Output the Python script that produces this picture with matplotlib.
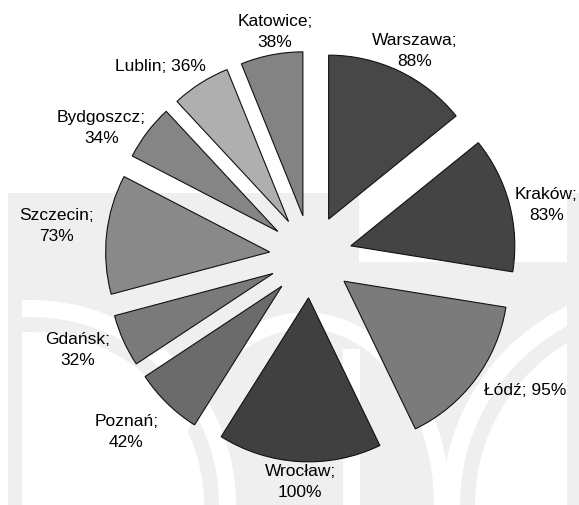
import matplotlib

matplotlib.use("Agg")

import matplotlib.pyplot as plt
import numpy as np
from matplotlib.patches import Ellipse, Rectangle, Wedge

CITIES = ["Warszawa", "Kraków", "Łódź", "Wrocław", "Poznań",
          "Gdańsk", "Szczecin", "Bydgoszcz", "Lublin", "Katowice"]
VALUES = [88, 83, 95, 100, 42, 32, 73, 34, 36, 38]
ONE_LINE = {"Łódź", "Lublin"}

COLORS = ["#474747", "#444444", "#7b7b7b", "#404040", "#6b6b6b",
          "#7a7a7a", "#898989", "#858585", "#afafaf", "#838383"]

# label layout: distance from pie centre (in radii) and angular nudge (deg)
LABEL_R = [1.41, 1.47, 1.54, 1.37, 1.55, 1.53, 1.56, 1.50, 1.48, 1.39]
LABEL_TURN = [-1.3, -2.4, 4.8, 0.5, -2.2, -2.6, -0.8, 5.6, 5.8, -2.0]

W, H = 579, 506
CX, CY, RADIUS = 310.8, 257.5, 164.0
EXPLODE = 0.2524

plt.rcParams["font.family"] = ["Liberation Sans", "DejaVu Sans"]


def _draw_watermark(fig):
    bg = fig.add_axes([0, 0, 1, 1], zorder=0)
    bg.set_xlim(0, W)
    bg.set_ylim(H, 0)
    bg.axis("off")
    gray = "#efefef"
    box = Rectangle((8, 194), W - 8, H - 194, fc=gray, ec="none")
    bg.add_patch(box)
    shapes = [
        Ellipse((305, 506), 290, 385, fc="white", ec="none"),
        Ellipse((305, 506), 258, 352, fc=gray, ec="none"),
        Rectangle((343, 350), 17, 160, fc="white", ec="none"),
        Wedge((31, 506), 205, 180, 360, width=17, fc="white", ec="none"),
        Wedge((31, 506), 173, 180, 360, fc="white", ec="none"),
        Wedge((663, 506), 221, 180, 360, width=18, fc="white", ec="none"),
        Wedge((663, 506), 188, 180, 360, fc="white", ec="none"),
        Rectangle((359, 194), W - 359, 69, fc="white", ec="none"),
    ]
    clip = Rectangle((22, 194), W - 34, H - 194, transform=bg.transData)
    for s in shapes:
        bg.add_patch(s)
        s.set_clip_path(clip)


def main():
    fig = plt.figure(figsize=(W / 100, H / 100), dpi=100)
    _draw_watermark(fig)

    ax = fig.add_axes([0, 0, 1, 1], zorder=1)
    ax.patch.set_alpha(0)
    wedges, _ = ax.pie(
        VALUES,
        colors=COLORS,
        startangle=90,
        counterclock=False,
        explode=[EXPLODE] * len(VALUES),
        radius=1.0,
        wedgeprops={"edgecolor": "#111111", "linewidth": 0.8},
    )
    ax.set_xlim(-CX / RADIUS, (W - CX) / RADIUS)
    ax.set_ylim(-(H - CY) / RADIUS, CY / RADIUS)

    for wedge, city, value, dist, turn in zip(wedges, CITIES, VALUES, LABEL_R, LABEL_TURN):
        sep = " " if city in ONE_LINE else "\n"
        mid = np.deg2rad((wedge.theta1 + wedge.theta2) / 2 + turn)
        ax.text(dist * np.cos(mid), dist * np.sin(mid), f"{city};{sep}{value}%",
                ha="center", va="center", fontsize=12.5, linespacing=1.5, color="black")

    fig.savefig("out.png", dpi=100)
    plt.close(fig)


if __name__ == "__main__":
    main()
